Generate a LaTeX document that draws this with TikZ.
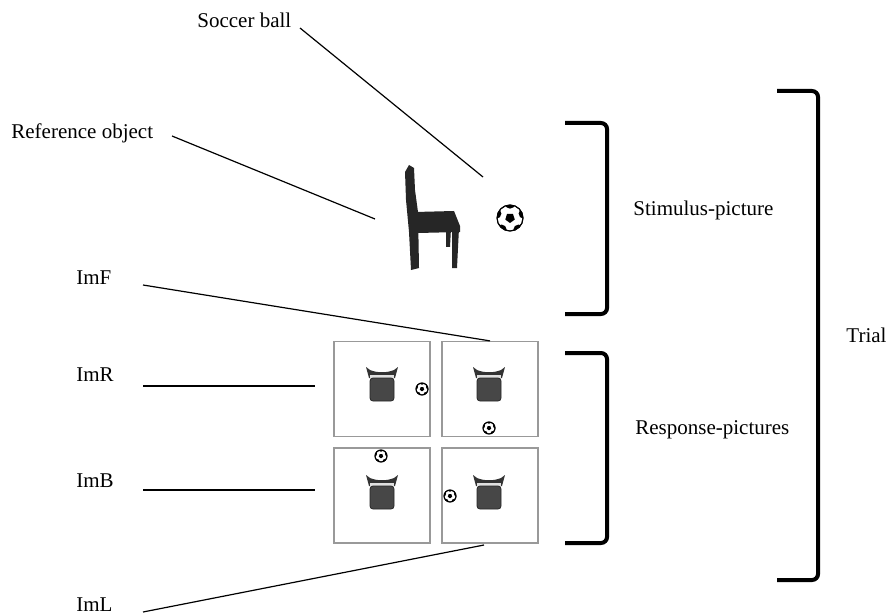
\documentclass[tikz,border=0pt]{standalone}
\usepackage{fontspec}
\setmainfont{Liberation Serif}
\usetikzlibrary{positioning}

\tikzset{
  lbl/.style={font=\fontsize{10.5}{12}\selectfont, inner sep=0pt, anchor=base west},
  leader/.style={line width=0.6pt},
  brace/.style={line width=2pt, rounded corners=3pt},
  panel/.style={draw=black!40, line width=0.6pt, minimum width=48pt,
                minimum height=47.5pt, inner sep=0pt},
  % soccer ball, radius 13 before scaling
  ball/.pic={
    \draw[line width=0.5pt, fill=white] (0,0) circle (13);
    \fill (90:5) -- (162:5) -- (234:5) -- (306:5) -- (18:5) -- cycle;
    \begin{scope}
      \clip (0,0) circle (13);
      \foreach \a in {54,126,198,270,342}
        \fill (\a:14.5) circle (5.2);
    \end{scope}
    \draw[line width=0.5pt] (0,0) circle (13);
  },
  % chair seen from above, back at the top
  topchair/.pic={
    \fill[black!80] (-16,-18) -- (-13,-7) -- (13,-7) -- (16,-18) -- (12,-15)
      .. controls (5,-12) and (-5,-12) .. (-12,-15) -- cycle;
    \fill[black!12] (-12,-10) rectangle (12,-7);
    \filldraw[fill=black!72, draw=black!85, rounded corners=1.5pt]
      (-12,-7) rectangle (12,16);
  },
}

\begin{document}
\begin{tikzpicture}[x=0.5pt, y=-0.5pt]
\useasboundingbox (0,0) rectangle (886,614);

% labels on the left
\node[lbl] (sball) at (197,28) {Soccer ball};
\node[lbl] (refobj) at (11,139) {Reference object};
\node[lbl] (imf) at (76,284) {ImF};
\node[lbl] (imr) at (76,381) {ImR};
\node[lbl] (imb) at (76,487) {ImB};
\node[lbl] (iml) at (76,611) {ImL};

% stimulus picture: side view of the chair and the ball
\fill[black!85] (405,172) -- (409,165) -- (414,168) -- (415,190) -- (418,212)
  -- (419,268) -- (411,270) -- (409,232) -- (406,200) -- cycle;
\fill[black!85] (415,212) -- (454,211) -- (460,226) -- (460,232) -- (418,233) -- cycle;
\fill[black!85] (452,228) -- (459,228) -- (457,268) -- (452,268) -- cycle;
\fill[black!85] (446,228) -- (451,228) -- (450,247) -- (446,247) -- cycle;
\pic at (510,218) {ball};

% response pictures
\node[panel] (imR) at (382,389) {};
\node[panel] (imF) at (490,389) {};
\node[panel] (imB) at (382,495.5) {};
\node[panel] (imL) at (490,495.5) {};
\pic at (382,385) {topchair};
\pic at (489,385) {topchair};
\pic at (382,493) {topchair};
\pic at (489,493) {topchair};
\pic[scale=0.46] at (422,389) {ball};
\pic[scale=0.46] at (489,428) {ball};
\pic[scale=0.46] at (381,456) {ball};
\pic[scale=0.46] at (450,496) {ball};

% leader lines
\coordinate (ball-tip) at (483,177);
\coordinate (chair-tip) at (375,219);
\coordinate (imr-a) at (143,386);
\coordinate (imr-b) at (315,386);
\coordinate (imb-a) at (143,490);
\coordinate (imb-b) at (315,490);
\coordinate (imf-a) at (143,285);
\coordinate (iml-a) at (143,612);
\coordinate (iml-b) at (484,545);
\draw[leader] ([shift={(103,0)}]sball.base west) -- (ball-tip);
\draw[leader] ([shift={(161,-3)}]refobj.base west) -- (chair-tip);
\draw[leader] (imf-a) -- (imF.north);
\draw[leader] (imr-a) -- (imr-b);
\draw[leader] (imb-a) -- (imb-b);
\draw[leader] (iml-a) -- (iml-b);

% brackets
\draw[brace] (565,123) -- (607,123) -- (607,314) -- (565,314);
\draw[brace] (565,353) -- (607,353) -- (607,543) -- (565,543);
\draw[brace] (777,91) -- (818,91) -- (818,580) -- (777,580);
\node[lbl] (stim) at (633,216) {Stimulus-picture};
\node[lbl] (resp) at (635,434) {Response-pictures};
\node[lbl] (trial) at (846,342) {Trial};
\end{tikzpicture}
\end{document}
